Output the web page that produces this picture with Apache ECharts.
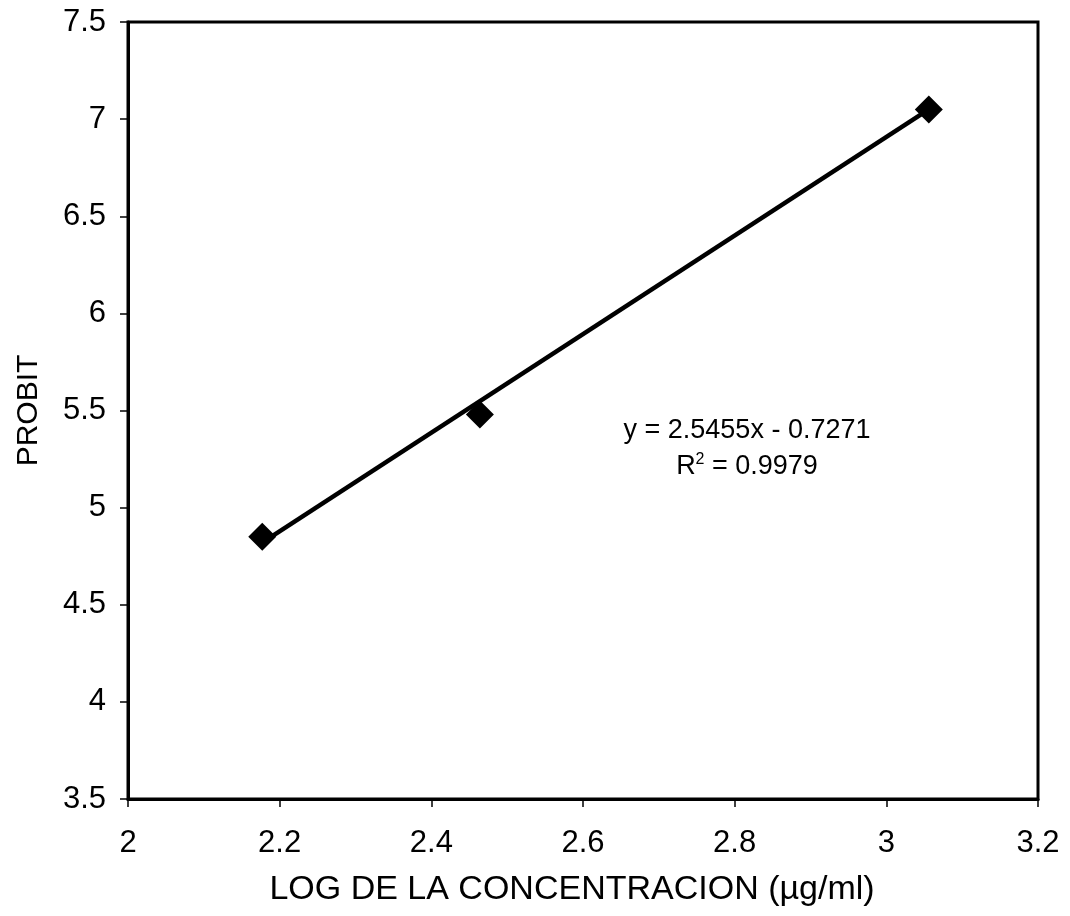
<!DOCTYPE html>
<html style="height: 100%">
<head>
    <meta charset="utf-8" />
    <title>PROBIT vs LOG concentracion</title>
    <script type="text/javascript" src="https://cdn.jsdelivr.net/npm/echarts@6.0.0/dist/echarts.min.js"></script>
</head>
<body style="height: 100%; margin: 0; background: #fff">
    <div id="container" style="width: 1070px; height: 916px"></div>
</body>
</html>
<script type="text/javascript">
    // datos
    var logConc = [2.177, 2.464, 3.056];
    var probit = [4.85, 5.48, 7.05];
    // linea de tendencia (extremos)
    var trendX = [2.177, 3.056];
    var trendY = [4.82, 7.05];
    var equation = 'y = 2.5455x - 0.7271';
    var r2Value = '0.9979';

    var font = '"Liberation Sans", Arial, sans-serif';

    var dom = document.getElementById("container");
    var myChart = echarts.init(dom);

    var option = {
        backgroundColor: '#fff',
        animation: false,
        grid: {
            left: 128,
            right: 32,
            top: 22,
            bottom: 117,
            outerBoundsMode: 'none',
            containLabel: false,
            show: true,
            borderColor: '#000',
            borderWidth: 3,
            backgroundColor: 'transparent'
        },
        xAxis: {
            type: 'value',
            min: 2,
            max: 3.2,
            interval: 0.2,
            name: 'LOG DE LA CONCENTRACION (µg/ml)',
            nameLocation: 'middle',
            nameGap: 74,
            nameTextStyle: { color: '#000', fontSize: 34, fontFamily: font, padding: [0, 22, 0, 0] },
            axisLine: { lineStyle: { color: '#000', width: 3 } },
            axisTick: { length: 8, lineStyle: { color: '#000', width: 1.5 } },
            axisLabel: { color: '#000', fontSize: 31, fontFamily: font, margin: 29 },
            splitLine: { show: false }
        },
        yAxis: {
            type: 'value',
            min: 3.5,
            max: 7.5,
            interval: 0.5,
            name: 'PROBIT',
            nameLocation: 'middle',
            nameGap: 84,
            nameTextStyle: { color: '#000', fontSize: 30, fontFamily: font },
            axisLine: { lineStyle: { color: '#000', width: 3 } },
            axisTick: { length: 8, lineStyle: { color: '#000', width: 1.5 } },
            axisLabel: { color: '#000', fontSize: 31, fontFamily: font, margin: 22 },
            splitLine: { show: false }
        },
        graphic: [{
            type: 'text',
            x: 747,
            y: 431,
            style: {
                text: equation,
                fill: '#000',
                fontSize: 27,
                fontFamily: font,
                align: 'center',
                verticalAlign: 'middle'
            }
        }, {
            type: 'text',
            x: 747,
            y: 467,
            style: {
                text: '{a|R}{sup|2}{a| = ' + r2Value + '}',
                fill: '#000',
                fontSize: 27,
                fontFamily: font,
                align: 'center',
                verticalAlign: 'middle',
                rich: {
                    a: { fontSize: 27, fontFamily: font, fill: '#000', lineHeight: 30 },
                    sup: { fontSize: 16, fontFamily: font, fill: '#000', verticalAlign: 'top', padding: [0, 0, 12, 0] }
                }
            }
        }],
        series: [{
            type: 'line',
            data: trendX.map(function (x, i) { return [x, trendY[i]]; }),
            showSymbol: false,
            lineStyle: { color: '#000', width: 4.5 },
            z: 2
        }, {
            type: 'scatter',
            data: logConc.map(function (x, i) { return [x, probit[i]]; }),
            symbol: 'diamond',
            symbolSize: 28,
            itemStyle: { color: '#000', opacity: 1 },
            z: 3
        }]
    };
    myChart.setOption(option);
</script>
